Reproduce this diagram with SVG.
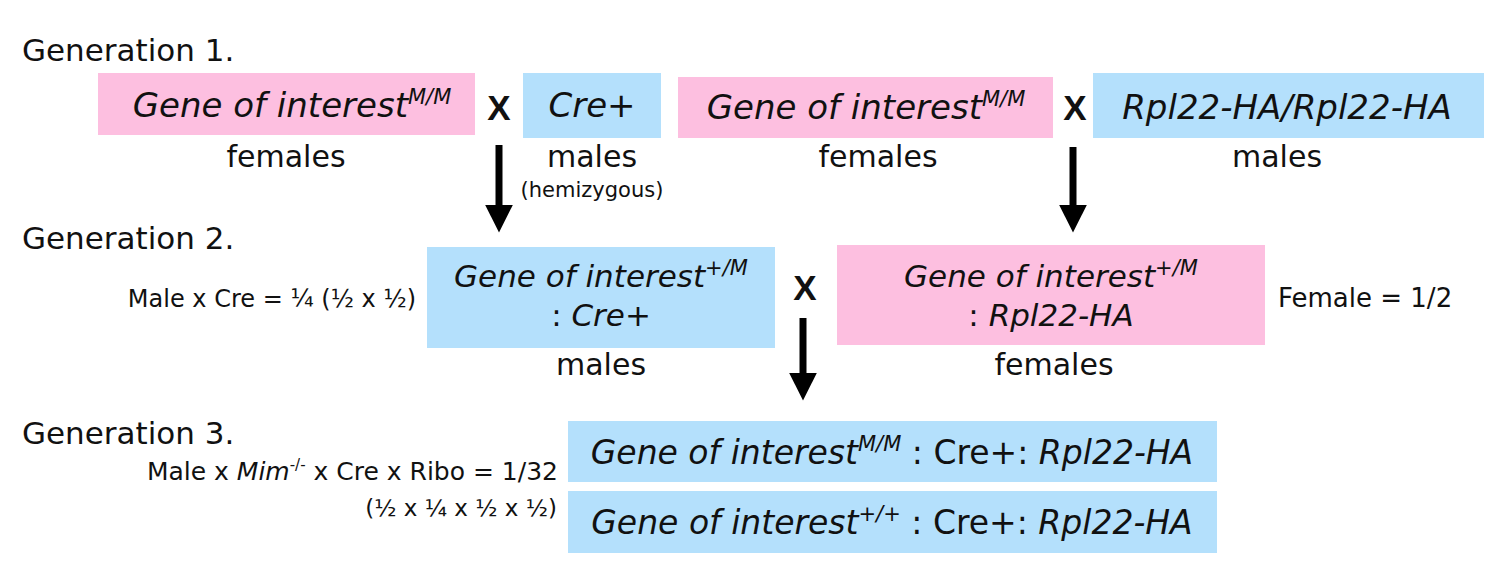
<svg xmlns="http://www.w3.org/2000/svg" width="1500" height="581" viewBox="0 0 1500 581">
<style>
text{font-family:"DejaVu Sans","Liberation Sans",sans-serif;fill:#111}
.gen{font-size:31px}
.lbl{font-size:30px;text-anchor:middle}
.box{font-size:34px;text-anchor:middle;font-style:italic}
.box2{font-size:31px;text-anchor:middle;font-style:italic}
.box3{font-size:33px;text-anchor:middle;font-style:italic}
.up{font-style:normal}
.sm{font-size:21px;text-anchor:middle}
.note{font-size:24px}
.x{font-size:35px;font-weight:bold;text-anchor:middle;font-family:"Liberation Sans",sans-serif}
.pink{fill:#FDBFE0}
.blue{fill:#B4E0FC}
.sup{font-size:21px}
</style>
<defs>
<marker id="ah" markerWidth="4" markerHeight="4" refX="0.2" refY="2" orient="auto" markerUnits="strokeWidth">
<path d="M0,0 L4,2 L0,4 z" fill="#000"/>
</marker>
</defs>
<text class="gen" x="22" y="61">Generation 1.</text>
<text class="gen" x="22" y="249">Generation 2.</text>
<text class="gen" x="22" y="444">Generation 3.</text>

<g id="g1-female-left">
<rect class="pink" x="98" y="73" width="377" height="62"/>
<text class="box" x="292" y="117">Gene of interest<tspan class="sup" dy="-13">M/M</tspan></text>
<text class="lbl" x="286" y="167">females</text>
</g>
<text class="x" x="499" y="120">X</text>
<g id="g1-male-left">
<rect class="blue" x="523" y="73" width="138" height="65"/>
<text class="box" x="592" y="117">Cre+</text>
<text class="lbl" x="592" y="167">males</text>
<text class="sm" x="592" y="197">(hemizygous)</text>
</g>
<g id="g1-female-right">
<rect class="pink" x="678" y="77" width="375" height="61"/>
<text class="box" x="866" y="119">Gene of interest<tspan class="sup" dy="-13">M/M</tspan></text>
<text class="lbl" x="878" y="167">females</text>
</g>
<text class="x" x="1075" y="120">X</text>
<g id="g1-male-right">
<rect class="blue" x="1093" y="73" width="391" height="65"/>
<text class="box" x="1287" y="119">Rpl22-HA/Rpl22-HA</text>
<text class="lbl" x="1277" y="167">males</text>
</g>

<g id="g2-male">
<text class="note" x="416" y="307" text-anchor="end">Male x Cre = ¼ (½ x ½)</text>
<rect class="blue" x="427" y="247" width="348" height="101"/>
<text class="box2" x="601" y="287">Gene of interest<tspan class="sup" dy="-12">+/M</tspan></text>
<text class="box2" x="601" y="326"><tspan class="up">: </tspan>Cre+</text>
<text class="lbl" x="601" y="375">males</text>
</g>
<text class="x" x="805" y="300">X</text>
<g id="g2-female">
<rect class="pink" x="837" y="245" width="428" height="100"/>
<text class="box2" x="1051" y="287">Gene of interest<tspan class="sup" dy="-12">+/M</tspan></text>
<text class="box2" x="1051" y="326"><tspan class="up">: </tspan>Rpl22-HA</text>
<text class="lbl" x="1054" y="375">females</text>
<text x="1278" y="307" style="font-size:26px">Female = 1/2</text>
</g>

<g id="g3">
<text x="558" y="480" text-anchor="end" style="font-size:25px">Male x <tspan font-style="italic">Mim</tspan><tspan style="font-size:15px" dy="-10">-/-</tspan><tspan dy="10"> x Cre x Ribo = 1/32</tspan></text>
<text x="557" y="516" text-anchor="end" style="font-size:23px">(½ x ¼ x ½ x ½)</text>
</g>
<g id="g3-mutant">
<rect class="blue" x="568" y="421" width="649" height="61"/>
<text class="box3" x="892" y="464">Gene of interest<tspan class="sup" dy="-13">M/M</tspan><tspan class="up" dy="13"> : Cre+: </tspan>Rpl22-HA</text>
</g>
<g id="g3-control">
<rect class="blue" x="568" y="491" width="649" height="62"/>
<text class="box3" x="892" y="534">Gene of interest<tspan class="sup" dy="-13">+/+</tspan><tspan class="up" dy="13"> : Cre+: </tspan>Rpl22-HA</text>
</g>

<g id="connectors" stroke="#000" stroke-width="7" fill="none">
<line x1="499" y1="145" x2="499" y2="206" marker-end="url(#ah)"/>
<line x1="1073" y1="147" x2="1073" y2="206" marker-end="url(#ah)"/>
<line x1="803" y1="318" x2="803" y2="374" marker-end="url(#ah)"/>
</g>
</svg>
